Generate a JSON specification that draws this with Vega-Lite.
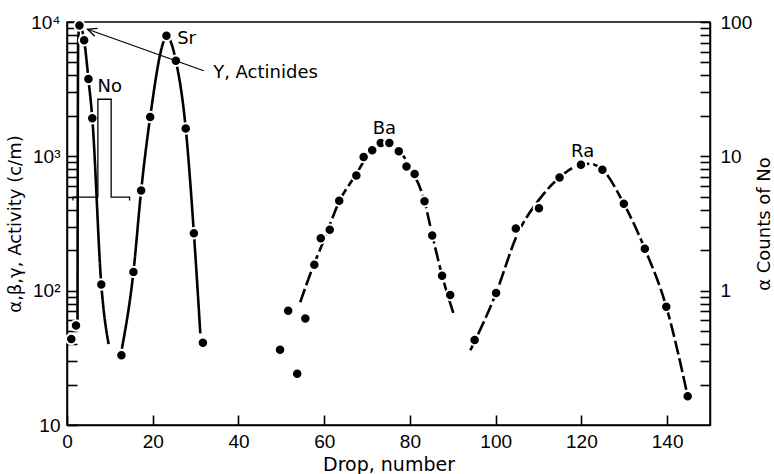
{
  "$schema": "https://vega.github.io/schema/vega-lite/v6.json",
  "width": 643,
  "height": 403,
  "autosize": {"type": "none"},
  "padding": {"left": 67, "top": 22, "right": 64, "bottom": 49},
  "background": "white",
  "config": {
    "view": {"stroke": "black", "strokeWidth": 1.5},
    "axis": {
      "grid": false,
      "domainColor": "black",
      "domainWidth": 1.5,
      "labelColor": "black",
      "labelFont": "Liberation Sans",
      "labelFontSize": 19,
      "titleColor": "black",
      "titleFont": "DejaVu Sans",
      "titleFontSize": 18,
      "titleFontWeight": "normal",
      "labelOverlap": false,
      "labelFlush": false
    }
  },
  "datasets": {
    "pts": [
      {"s": "Y", "x": 1.0, "y": 43.7}, {"s": "Y", "x": 2.1, "y": 55}, {"s": "Y", "x": 2.9, "y": 9400},
      {"s": "Y", "x": 4.0, "y": 7300}, {"s": "Y", "x": 5.0, "y": 3760}, {"s": "Y", "x": 5.9, "y": 1920},
      {"s": "Y", "x": 8.0, "y": 111},
      {"s": "Sr", "x": 12.7, "y": 33}, {"s": "Sr", "x": 15.5, "y": 138}, {"s": "Sr", "x": 17.3, "y": 557},
      {"s": "Sr", "x": 19.4, "y": 1960}, {"s": "Sr", "x": 23.2, "y": 7900}, {"s": "Sr", "x": 25.4, "y": 5140},
      {"s": "Sr", "x": 27.7, "y": 1610}, {"s": "Sr", "x": 29.6, "y": 268}, {"s": "Sr", "x": 31.7, "y": 41},
      {"s": "Ba", "x": 49.7, "y": 36.3}, {"s": "Ba", "x": 51.6, "y": 71}, {"s": "Ba", "x": 53.7, "y": 24.1},
      {"s": "Ba", "x": 55.6, "y": 62}, {"s": "Ba", "x": 57.7, "y": 156}, {"s": "Ba", "x": 59.2, "y": 246},
      {"s": "Ba", "x": 61.3, "y": 284}, {"s": "Ba", "x": 63.5, "y": 467}, {"s": "Ba", "x": 67.5, "y": 721},
      {"s": "Ba", "x": 69.2, "y": 988}, {"s": "Ba", "x": 71.2, "y": 1110}, {"s": "Ba", "x": 73.2, "y": 1256},
      {"s": "Ba", "x": 75.2, "y": 1256}, {"s": "Ba", "x": 77.4, "y": 1090}, {"s": "Ba", "x": 79.2, "y": 841},
      {"s": "Ba", "x": 81.1, "y": 738}, {"s": "Ba", "x": 83.4, "y": 463}, {"s": "Ba", "x": 85.2, "y": 257},
      {"s": "Ba", "x": 87.5, "y": 129}, {"s": "Ba", "x": 89.4, "y": 93},
      {"s": "Ra", "x": 95.1, "y": 43}, {"s": "Ra", "x": 100.1, "y": 96}, {"s": "Ra", "x": 104.7, "y": 290},
      {"s": "Ra", "x": 110.1, "y": 411}, {"s": "Ra", "x": 114.9, "y": 697}, {"s": "Ra", "x": 119.9, "y": 867},
      {"s": "Ra", "x": 124.9, "y": 796}, {"s": "Ra", "x": 129.9, "y": 444}, {"s": "Ra", "x": 134.8, "y": 205},
      {"s": "Ra", "x": 139.8, "y": 76}, {"s": "Ra", "x": 144.8, "y": 16.4}
    ],
    "curves": [
      {"s": "Y", "st": "solid", "x": 2.45, "y": 56}, {"s": "Y", "st": "solid", "x": 2.6, "y": 7000},
      {"s": "Y", "st": "solid", "x": 2.9, "y": 9400}, {"s": "Y", "st": "solid", "x": 4.0, "y": 7300},
      {"s": "Y", "st": "solid", "x": 5.0, "y": 3760}, {"s": "Y", "st": "solid", "x": 5.9, "y": 1920},
      {"s": "Y", "st": "solid", "x": 8.0, "y": 111}, {"s": "Y", "st": "solid", "x": 9.7, "y": 40},
      {"s": "Sr", "st": "solid", "x": 12.8, "y": 37}, {"s": "Sr", "st": "solid", "x": 15.5, "y": 138},
      {"s": "Sr", "st": "solid", "x": 17.3, "y": 557}, {"s": "Sr", "st": "solid", "x": 19.4, "y": 1960},
      {"s": "Sr", "st": "solid", "x": 22.5, "y": 7100}, {"s": "Sr", "st": "solid", "x": 23.2, "y": 7900},
      {"s": "Sr", "st": "solid", "x": 25.4, "y": 5140}, {"s": "Sr", "st": "solid", "x": 27.7, "y": 1610},
      {"s": "Sr", "st": "solid", "x": 29.6, "y": 268}, {"s": "Sr", "st": "solid", "x": 31.1, "y": 48},
      {"s": "Ba", "st": "dashed", "x": 54.4, "y": 82}, {"s": "Ba", "st": "dashed", "x": 57.7, "y": 160},
      {"s": "Ba", "st": "dashed", "x": 60.0, "y": 240}, {"s": "Ba", "st": "dashed", "x": 63.5, "y": 460},
      {"s": "Ba", "st": "dashed", "x": 67.5, "y": 740}, {"s": "Ba", "st": "dashed", "x": 70.0, "y": 1000},
      {"s": "Ba", "st": "dashed", "x": 72.0, "y": 1180}, {"s": "Ba", "st": "dashed", "x": 74.2, "y": 1260},
      {"s": "Ba", "st": "dashed", "x": 76.0, "y": 1240}, {"s": "Ba", "st": "dashed", "x": 78.0, "y": 1060},
      {"s": "Ba", "st": "dashed", "x": 80.0, "y": 830}, {"s": "Ba", "st": "dashed", "x": 83.4, "y": 463},
      {"s": "Ba", "st": "dashed", "x": 85.2, "y": 260}, {"s": "Ba", "st": "dashed", "x": 87.5, "y": 130},
      {"s": "Ba", "st": "dashed", "x": 90.2, "y": 67},
      {"s": "Ra", "st": "dashed", "x": 94.1, "y": 36}, {"s": "Ra", "st": "dashed", "x": 100.1, "y": 96},
      {"s": "Ra", "st": "dashed", "x": 105.0, "y": 260}, {"s": "Ra", "st": "dashed", "x": 110.0, "y": 470},
      {"s": "Ra", "st": "dashed", "x": 115.0, "y": 700}, {"s": "Ra", "st": "dashed", "x": 119.9, "y": 867},
      {"s": "Ra", "st": "dashed", "x": 122.0, "y": 880}, {"s": "Ra", "st": "dashed", "x": 124.9, "y": 796},
      {"s": "Ra", "st": "dashed", "x": 129.9, "y": 444}, {"s": "Ra", "st": "dashed", "x": 134.8, "y": 205},
      {"s": "Ra", "st": "dashed", "x": 139.8, "y": 76}, {"s": "Ra", "st": "dashed", "x": 144.8, "y": 16.4}
    ],
    "hist": [
      {"i": 0, "x": 1.4, "c": 4.7}, {"i": 1, "x": 1.4, "c": 4.97}, {"i": 2, "x": 7.2, "c": 4.97},
      {"i": 3, "x": 7.2, "c": 26.6}, {"i": 4, "x": 10.3, "c": 26.6}, {"i": 5, "x": 10.3, "c": 4.97},
      {"i": 6, "x": 14.6, "c": 4.97}, {"i": 7, "x": 14.6, "c": 4.7}
    ],
    "labels": [
      {"x": 7.1, "y": 3270, "t": "No"},
      {"x": 25.7, "y": 7460, "t": "Sr"},
      {"x": 34.1, "y": 4190, "t": "Y, Actinides"},
      {"x": 71.3, "y": 1610, "t": "Ba"},
      {"x": 117.6, "y": 1077, "t": "Ra"}
    ],
    "arrow": [
      {"x": 31.9, "y": 4340, "x2": 4.8, "y2": 8830}
    ]
  },
  "encoding": {
    "x": {
      "field": "x",
      "type": "quantitative",
      "title": "Drop, number",
      "scale": {"domain": [0, 150], "nice": false, "zero": false},
      "axis": {
        "values": [0, 20, 40, 60, 80, 100, 120, 140],
        "ticks": true, "tickSize": -10, "tickColor": "black", "tickWidth": 1.6,
        "labelPadding": 17,
        "titlePadding": 4,
        "titleFontSize": 19
      }
    }
  },
  "layer": [
    {
      "encoding": {
        "y": {
          "field": "y",
          "type": "quantitative",
          "title": "α,β,γ, Activity (c/m)",
          "scale": {"type": "log", "domain": [10, 10000], "nice": false},
          "axis": {
            "orient": "left",
            "values": [10, 20, 30, 40, 50, 60, 70, 80, 90, 100, 200, 300, 400, 500, 600, 700, 800, 900, 1000, 2000, 3000, 4000, 5000, 6000, 7000, 8000, 9000, 10000],
            "labelExpr": "datum.value == 10 ? '10' : datum.value == 100 ? '10²' : datum.value == 1000 ? '10³' : datum.value == 10000 ? '10⁴' : ''",
            "ticks": true, "tickSize": -10, "tickColor": "black", "tickWidth": 1.6,
            "labelPadding": 17,
            "titlePadding": 6
          }
        }
      },
      "layer": [
        {
          "data": {"name": "curves"},
          "mark": {"type": "line", "color": "black", "strokeWidth": 2.6, "interpolate": "monotone"},
          "encoding": {
            "detail": {"field": "s", "type": "nominal"},
            "strokeDash": {"field": "st", "type": "nominal", "scale": {"domain": ["solid", "dashed"], "range": [[1, 0], [14, 4]]}, "legend": null}
          }
        },
        {
          "data": {"name": "pts"},
          "mark": {"type": "point", "filled": true, "fill": "black", "stroke": "white", "strokeWidth": 2, "size": 110, "opacity": 1}
        },
        {
          "data": {"name": "arrow"},
          "mark": {"type": "rule", "color": "black", "strokeWidth": 1.2},
          "encoding": {"x2": {"field": "x2"}, "y2": {"field": "y2"}}
        },
        {
          "data": {"name": "arrow"},
          "mark": {"type": "point", "shape": "M-0.45,1 L0,0 L0.45,1", "filled": false, "stroke": "black", "strokeWidth": 1.3, "size": 330, "angle": 289.6, "opacity": 1},
          "encoding": {"x": {"field": "x2", "type": "quantitative"}, "y": {"field": "y2", "type": "quantitative"}}
        },
        {
          "data": {"name": "labels"},
          "mark": {"type": "text", "align": "left", "baseline": "middle", "font": "DejaVu Sans", "fontSize": 18, "color": "black"},
          "encoding": {"text": {"field": "t", "type": "nominal"}}
        }
      ]
    },
    {
      "data": {"name": "hist"},
      "mark": {"type": "line", "color": "black", "strokeWidth": 1.3},
      "encoding": {
        "order": {"field": "i", "type": "quantitative"},
        "y": {
          "field": "c",
          "type": "quantitative",
          "title": "α Counts of No",
          "scale": {"type": "log", "domain": [0.1, 100], "nice": false},
          "axis": {
            "orient": "right",
            "values": [0.2, 0.3, 0.4, 0.5, 0.6, 0.7, 0.8, 0.9, 1, 2, 3, 4, 5, 6, 7, 8, 9, 10, 20, 30, 40, 50, 60, 70, 80, 90, 100],
            "labelExpr": "datum.value == 1 ? '1' : datum.value == 10 ? '10' : datum.value == 100 ? '100' : ''",
            "ticks": true, "tickSize": -10, "tickColor": "black", "tickWidth": 1.6,
            "labelPadding": 20,
            "titleAngle": 270,
            "titlePadding": 22
          }
        }
      }
    }
  ],
  "resolve": {"scale": {"y": "independent"}}
}
